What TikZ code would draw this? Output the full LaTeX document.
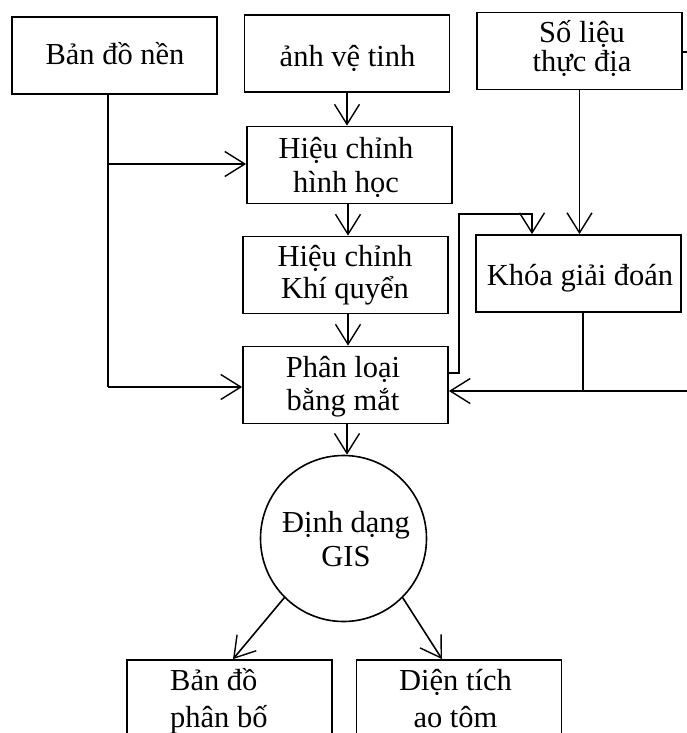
\documentclass[tikz,border=0pt]{standalone}
\usepackage{fontspec}
\setmainfont{Liberation Serif}
\usetikzlibrary{arrows.meta}
\newcommand{\twol}[3]{\vtop{\baselineskip=#3\lineskiplimit=-100pt\relax\halign{\hfil##\hfil\cr #1\cr #2\cr}}}
\newcommand{\twoleft}[3]{\vtop{\baselineskip=#3\lineskiplimit=-100pt\relax\halign{##\hfil\cr #1\cr #2\cr}}}
\begin{document}
\begin{tikzpicture}[x=1pt,y=-1pt,
  txt/.style={font=\fontsize{30.5}{35}\selectfont, inner sep=0pt, anchor=base},
  box/.style={draw, line width=1.8pt, inner sep=0pt, minimum width=205pt, minimum height=77pt},
  circ/.style={draw, circle, line width=1.6pt, inner sep=0pt, minimum size=166pt},
  conn/.style={line width=1.6pt},
  arr/.style={conn, -{Straight Barb[length=20pt,width=25pt,line width=1.4pt]}}
]
\useasboundingbox (0,0) rectangle (687,733);
\clip (0,0) rectangle (687,733);

% shapes
\node[box] (bdn) at (114.5,55.5) {};
\node[box] (anh) at (347,53.5) {};
\node[box] (sl) at (579.5,51) {};
\node[box] (hh) at (349.5,165) {};
\node[box] (kq) at (345.5,275) {};
\node[box] (kgd) at (578.5,273.5) {};
\node[box] (pl) at (345.5,385) {};
\node[circ] (gis) at (343.5,538.5) {};
\node[box, minimum height=76pt] (bl) at (229.5,698) {};
\node[box, minimum height=76pt] (br) at (459,698) {};

% texts
\node[txt] (t-bdn) at (115,65) {Bản đồ nền};
\node[txt] (t-anh) at (347.5,67) {ảnh vệ tinh};
\node[txt] (t-sl) at (582,43) {\twol{Số liệu}{thực địa}{29pt}};
\node[txt] (t-hh) at (346,158) {\twol{Hiệu chỉnh}{hình học}{34pt}};
\node[txt] (t-kq) at (345,266) {\twol{Hiệu chỉnh}{Khí quyển}{32pt}};
\node[txt] (t-kgd) at (580,285) {Khóa giải đoán};
\node[txt] (t-pl) at (343,377) {\twol{Phân loại}{bằng mắt}{33pt}};
\node[txt] (t-gis) at (346,532) {\twol{Định dạng}{GIS}{34pt}};
\node[txt, anchor=base west] (t-bl) at (170,690) {\twoleft{Bản đồ}{phân bố}{37pt}};
\node[txt] (t-br) at (455.5,690) {\twol{Diện tích}{ao tôm}{37pt}};

\coordinate (j1) at (108,164);
\coordinate (j2) at (108,387);
\coordinate (e1) at (687,52);
\coordinate (j3) at (583,391);
\coordinate (e2) at (687,391);
\coordinate (f1) at (459,373);
\coordinate (f2) at (459,214);
\coordinate (f3) at (532,214);

\draw[arr] (anh.south) -- (anh.south |- hh.north);
\draw[arr] ([xshift=-1.5pt]hh.south) -- ([xshift=-1.5pt]hh.south |- kq.north);
\draw[arr] ([xshift=2.5pt]kq.south) -- ([xshift=2.5pt]kq.south |- pl.north);
\draw[arr] ([xshift=1.5pt]pl.south) -- ([xshift=1.5pt]pl.south |- gis.north);

\draw[conn] (bdn.south -| j1) -- (j2);
\draw[arr] (j2) -- (j2 -| pl.west);
\draw[arr] (j1) -- (j1 -| hh.west);

\draw[arr] (sl.south) -- (sl.south |- kgd.north);
\draw[conn] (sl.east |- e1) -- (e1);

\draw[arr] (e2) -- (e2 -| pl.east);
\draw[conn] (kgd.south -| j3) -- (j3);

\draw[arr] (f1 -| pl.east) -- (f1) -- (f2) -- (f3) -- (f3 |- kgd.north);

\draw[arr] (gis.225) -- ([xshift=3.5pt]bl.north);
\draw[arr] (gis.-45) -- ([xshift=-17pt]br.north);
\end{tikzpicture}
\end{document}
